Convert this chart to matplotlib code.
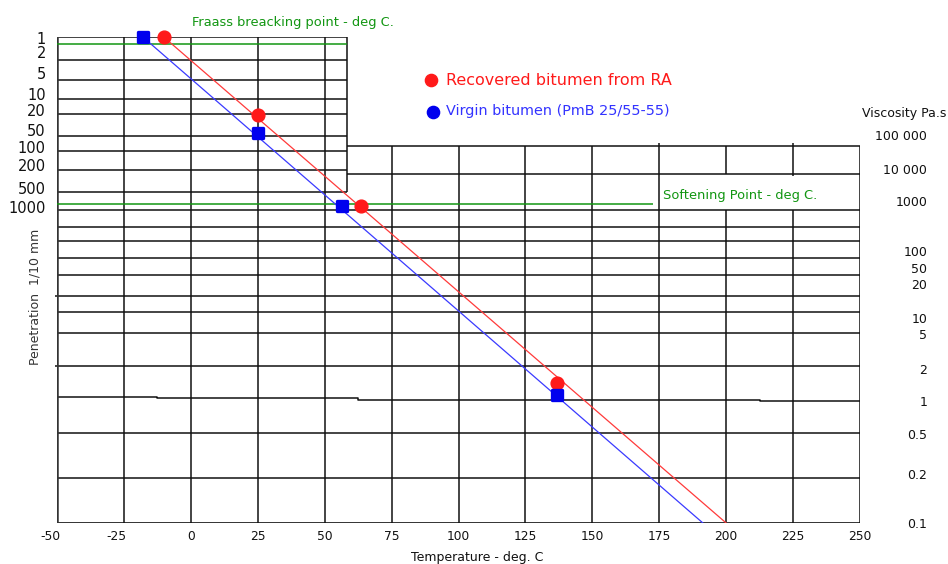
import numpy as np
import matplotlib
matplotlib.use("Agg")
import matplotlib.pyplot as plt
from matplotlib.markers import MarkerStyle
from matplotlib.transforms import ScaledTranslation

plt.rcParams['font.family'] = ['DejaVu Sans']

# vertical position on the chart is given in "chart rows" (0 = top of the image)
# temperature axis
temp_ticks = np.arange(-50, 251, 25)

# left scale: penetration 1/10 mm
pen_labels = ['1', '2', '5', '10', '20', '50', '100', '200', '500', '1000']
pen_rows = [38.3, 52.3, 73.3, 94.3, 110, 130, 146.7, 165, 188.3, 206.7]

# right scale: viscosity Pa.s
visc_labels = ['100 000', '10 000', '1000', '100', '50', '20', '10', '5', '2', '1',
               '0.5', '0.2', '0.1']
visc_rows = [135.7, 169, 201.7, 251.7, 268.3, 285, 318.3, 335, 369.3, 401.7,
             435, 475, 524]

# grid rows
upper_left_rows = [37.3, 60, 80, 99, 114.3, 135.7, 151, 170, 192]
upper_right_rows = [146, 174.3]
full_rows = [210, 226.7, 241, 257.5, 275, 295.7, 312, 333.3, 366, 432.5, 477.5, 523]
step_row_temp = [-50, -12.6, 62.5, 212.6, 250]
step_row_rows = [396.7, 398.3, 399.6, 401.3, 401.3]
upper_edge_temp = 58.2

# reference lines
fraass_row = 44.3
softening_row = 204.3

# recovered bitumen from RA (Fraass, pen at 25, softening point, viscosity)
red_temp = [-10, 25, 63.6, 136.8]
red_row = [37.3, 115, 205.7, 382.7]
red_line_temp = [-10, 200]
red_line_row = [37.3, 523]

# virgin bitumen PmB 25/55-55
blue_temp = [-17.8, 25, 56.6, 136.8]
blue_row = [37.3, 133.3, 205.7, 395]
blue_line_temp = [-17.8, 191.3]
blue_line_row = [37.3, 523]

RED = '#ff1a1a'
BLUE = '#0000ee'
GREEN = '#129612'
GRID = '#111111'
PX = 803 / 300  # pixels per degree

fig = plt.figure(figsize=(9.48, 5.64), dpi=100)
ax = fig.add_axes([57 / 948, 41 / 564, 803 / 948, 486 / 564])
ax.set_xlim(-50, 250)
ax.set_ylim(523, 37)
for s in ax.spines.values():
    s.set_visible(False)

lw = 1.1
# horizontal grid
ax.hlines(upper_left_rows, -50, upper_edge_temp, color=GRID, lw=lw)
ax.hlines(upper_right_rows, upper_edge_temp, 250, color=GRID, lw=lw)
ax.hlines(full_rows, -50, 250, color=GRID, lw=lw)
ax.hlines([295.7, 366], -50.8, -50, color=GRID, lw=lw, clip_on=False)
ax.plot(step_row_temp, step_row_rows, color=GRID, lw=lw, drawstyle='steps-post')
ax.hlines(523, -50, 250, color='#333333', lw=1.8)

# vertical grid
ax.vlines([-50], 37.3, 523, color='#333333', lw=1.8)
ax.vlines([-25, 0, 25, 50], 37.3, 523, color=GRID, lw=lw)
ax.vlines([upper_edge_temp], 37.3, 192, color=GRID, lw=lw)
ax.vlines([75, 100, 125, 150], 146, 523, color=GRID, lw=lw)
ax.vlines([175], 143, 523, color=GRID, lw=lw)
ax.vlines([200], 146, 174.3, color=GRID, lw=lw)
ax.vlines([225], 143, 176, color=GRID, lw=lw)
ax.vlines([200, 225], 210, 523, color=GRID, lw=lw)
ax.vlines([250], 146, 523, color=GRID, lw=lw)

# Fraass and softening point lines
ax.hlines(fraass_row, -50.8, upper_edge_temp, color=GREEN, lw=1.1)
ax.hlines(softening_row, -50, 172.5, color=GREEN, lw=1.1)

# bitumen lines
ax.plot(red_line_temp, red_line_row, color='#ff3a3a', lw=0.9)
ax.plot(blue_line_temp, blue_line_row, color='#3a3aff', lw=0.9)
ax.plot(red_temp, red_row, 'o', color=RED, ms=9.2, mec=RED, zorder=5, clip_on=False)
sq = MarkerStyle('s', joinstyle='round')
ax.plot(blue_temp, blue_row, ls='none', marker=sq, color=BLUE, ms=7.2, mec=BLUE,
        mew=2.4, zorder=5, clip_on=False)

# axes ticks
ax.set_xticks(temp_ticks)
ax.set_xticklabels([str(t) for t in temp_ticks])
ax.tick_params(axis='x', length=0, pad=5, labelsize=8.8, colors='#111111')
for t, lab in zip(temp_ticks, ax.get_xticklabels()):
    if t < 0:
        lab.set_transform(lab.get_transform() +
                          ScaledTranslation(-7 / 100, 0, fig.dpi_scale_trans))
ax.set_yticks(pen_rows)
ax.set_yticklabels(pen_labels)
ax.tick_params(axis='y', length=0, pad=8, labelsize=10.5, colors='#111111')

ax2 = ax.twinx()
ax2.set_ylim(523, 37)
for s in ax2.spines.values():
    s.set_visible(False)
ax2.set_yticks(visc_rows)
ax2.set_yticklabels(visc_labels, ha='right')
ax2.tick_params(axis='y', length=0, pad=48.5, labelsize=9, colors='#111111')

# titles and labels
ax.text(-50 + (192 - 57) / PX, 22.7, 'Fraass breacking point - deg C.',
        color=GREEN, fontsize=9.4, va='center', ha='left', clip_on=False)
ax.text(-50 + (663 - 57) / PX, 195.7, 'Softening Point - deg C.',
        color=GREEN, fontsize=9.4, va='center', ha='left')
ax.text(-50 + (946 - 57) / PX, 114, 'Viscosity Pa.s', fontsize=9,
        va='center', ha='right', color='#111111', clip_on=False)
ax.set_xlabel('Temperature - deg. C', fontsize=9, color='#111111')
ax.set_ylabel('Penetration  1/10 mm', fontsize=9, color='#333333')
ax.yaxis.set_label_coords(-16 / 803, (523 - 297) / 486)
ax.xaxis.set_label_coords((477 - 57) / 803, -(550.5 - 523) / 486)

# legend
leg_temp = -50 + (431 - 57) / PX
ax.plot([leg_temp], [79.5], 'o', color=RED, ms=8.8)
ax.plot([leg_temp + 0.6], [111.5], 'o', color=BLUE, ms=8.8)
ax.text(leg_temp + 5.6, 80.5, 'Recovered bitumen from RA', color=RED, fontsize=11.55,
        va='center', ha='left')
ax.text(leg_temp + 5.6, 111.2, 'Virgin bitumen (PmB 25/55-55)', color='#3333ff',
        fontsize=10.4, va='center', ha='left')

fig.savefig('out.png', dpi=100)
